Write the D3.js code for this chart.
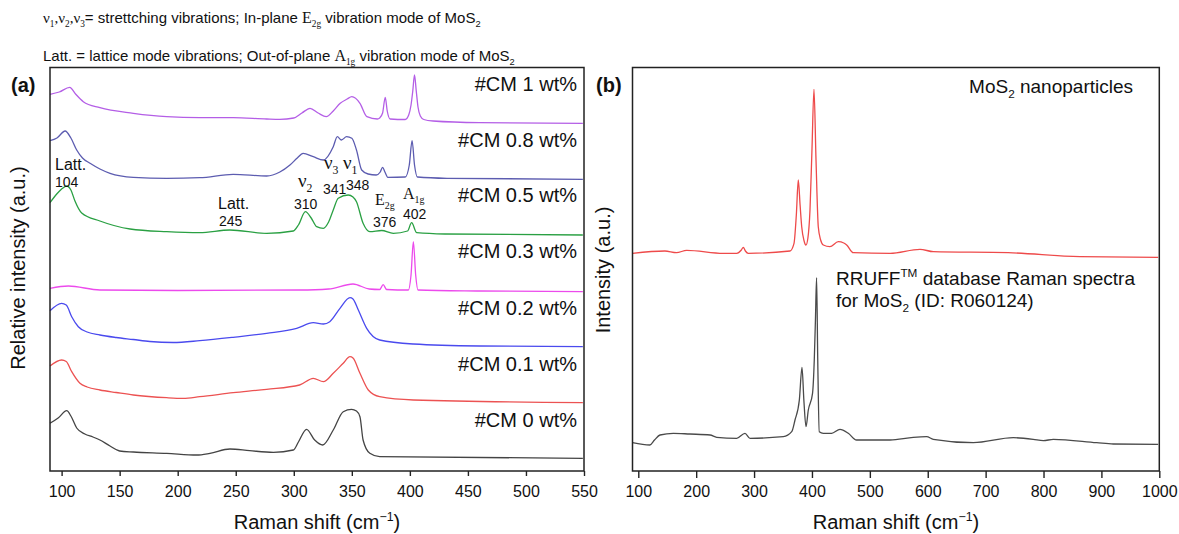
<!DOCTYPE html>
<html><head><meta charset="utf-8">
<script src="https://cdn.jsdelivr.net/npm/d3@7"></script>
<style>body{margin:0;background:#fff}svg{display:block}text{font-family:"Liberation Sans",Arial,sans-serif;fill:#111}</style>
</head><body><svg id="c" width="1179" height="534"></svg>
<script>
// ---------- DATA ----------
const seriesLabels = ["#CM 1 wt%","#CM 0.8 wt%","#CM 0.5 wt%","#CM 0.3 wt%","#CM 0.2 wt%","#CM 0.1 wt%","#CM 0 wt%"];
// wavenumber (cm-1) and stacked relative intensity (a.u.)
const cm1_x = [90,98,107,112,118.7,133,161.8,190.5,219,247.8,276.6,288,300,307,314,321,328,334,340,346,350,357,363,372,374,376.5,378.8,380.5,383,396,399,401,402.5,404,405.5,407,409,412,420,460,549];
const cm1_y = [376.7,379,383.7,377,369.3,363.3,357.7,354.3,353.3,353.3,352,351.7,353,358,362.7,358,354.3,360,367.7,372,374.3,367.7,354.3,352,353,358,373.7,360,352,351.5,356,366,380,396,380,364,355,351.5,350,348.3,347.7];
const cm08_x = [90,96,103,108,113,118,124.5,133,141.7,161.8,190.5,219,247.8,276.6,288,296.7,303,308,316.8,325.5,334,337.5,341,345.5,350,354,358.5,364,371,374.5,376.5,378.5,381,396,399.5,401.9,404,406.5,432,549];
const cm08_y = [330.3,333,340,333,321,313,307.7,302,297.7,293.7,292.7,293.3,296.7,295,299,306,313,317.7,314.3,311,324.3,334.3,331,334.3,332.7,321,301,297,296,299,303.7,299,293.7,294,306,330.3,306,294,292.7,291.7];
const cm05_x = [90,95.8,100,104.4,108,111.5,117.3,133,159,190.5,219,245,276.6,299.6,304,310,315,319.7,325.5,330,334,338.3,346.9,351,354,359.7,365.5,375.7,385.7,398,401.5,405.9,430,549];
const cm05_y = [268.3,277,282,285,281,270,258,250,242,239.3,238.3,241,237.7,240,246,259.3,253,244.3,242.7,249,261,272.7,276,274,269.3,247.7,239.3,240.5,237.7,240,248.3,238.3,237,236];
const cm03_x = [90,105.8,133,200,305,330,351,365,374,377,380,398.7,401,403,405,407,460,549];
const cm03_y = [182.7,185,181,180.5,181,182,187,182,181.5,186.3,181.5,181,196,229.3,196,181,180,179.3];
const cm02_x = [90,100,104,108.7,114.4,122,133,147,161.8,176,196,219,247.8,276.6,302.5,316.8,325.5,331,339.8,348.4,351,355.6,362.8,374,403,460,549];
const cm02_y = [160.3,167.7,166,154.3,144.3,139,136,133.5,131.5,129.5,128.5,130.3,133.7,137.7,142.7,148.3,147,149.3,162.7,173.3,172,161,142.7,131,127,125,124.3];
const cm01_x = [90,100,104,108.7,115.8,122,133,147,161.8,175,190.5,204.8,219,247.8,276.6,305,316.8,325.5,334,342.6,348.4,351,357,364.2,374,403,549];
const cm01_y = [105,111,109.5,99.3,87.7,84,81,78.5,76,74.5,73.3,72.7,74.3,78.3,81.7,86,92.7,89.3,97.7,107.7,114.3,113,97.7,81,74.3,71,68.3];
const cm0_x = [90,97,104.4,108,113,120,127,133,141.7,150,161.8,190.5,216.4,227.8,245,262,282.4,299.6,304,311,318,324.9,334,342.6,349.8,354,357,359.7,365.5,374,549];
const cm0_y = [47.7,53,60.3,55,43,37,34,31,25,20,19,17.7,16,17.7,22,20.3,18.7,21,29,41.7,31,26,41,59.3,61.7,60,54.3,31,17.7,14.3,12.7];

const nano_x = [90,146,166,183.6,246.9,270,278,281.4,285,290,362,369,373,376.4,379.5,382.3,386,389.7,393,396.6,400,403.5,407,410.9,415,419.6,431,445.5,455,460,471.4,535,586.6,609.6,739,863,998];
const nano_y = [217.7,220,218.3,220.7,217.7,217.7,221,223.7,220,217.7,220,227.7,256,291,266,244.3,231,226,233,261,321,381.7,311,244.3,231,226,224.3,229.3,228,226,218.3,217.7,221.7,219.3,218.3,214.3,213.7];
const rruff_x = [90,120,128,137.5,160.5,189,224,235.5,270,284.3,293,350.5,365,370.7,378.2,382.8,386,389.7,393.7,401,404,406,408,410,412.6,419.6,434,448.4,462.8,477,535,575,598,609.6,678.7,747.8,782.3,799.6,817,891.8,920.5,998];
const rruff_y = [28.3,26,31,36,37.7,37,36,33.7,32.7,37.7,32.7,34.3,39.3,51,71,103.7,71,44.3,61,77.7,111,151,193.3,111,39.3,37.7,37.7,41.7,37.7,31,31,33.7,34.3,31.7,28.3,33.3,31.7,30.3,31.7,28.3,27,26.7];

const ticksA = [100,150,200,250,300,350,400,450,500,550];
const ticksB = [100,200,300,400,500,600,700,800,900,1000];

// ---------- DRAW ----------
const svg = d3.select("#c");
const SERIF = '"Liberation Serif","Times New Roman",serif';
const colorsA = ["#b45ee6","#5c5cb0","#2aa043","#ec4aec","#4a4aee","#ec5252","#444444"];

const xA = d3.scaleLinear().domain([90,550]).range([50,584]);
const yA = d3.scaleLinear().domain([0,403]).range([471,68]);
const xB = d3.scaleLinear().domain([90,1000]).range([632.5,1159.3]);
const yB = d3.scaleLinear().domain([0,403]).range([471,68]);

function rich(g, x, y, segs, size, anchor){
  const t = g.append("text").attr("x",x).attr("y",y).attr("font-size",size).attr("text-anchor",anchor||"start");
  let cur = 0;
  segs.forEach(s=>{
    const ts = t.append("tspan").text(s.t);
    let target = 0, fs = s.fs || size;
    if (s.sub){ target = size*0.28; fs = size*0.62; }
    if (s.sup){ target = -size*0.4; fs = size*0.62; }
    if (target !== cur){ ts.attr("dy", target-cur); cur = target; }
    ts.attr("font-size", fs);
    if (s.serif) ts.style("font-family", SERIF);
  });
  return t;
}

function drawLine(xs, ys, sx, sy, color, w){
  const pts = xs.map((x,i)=>[x, ys[i]]);
  svg.append("path").datum(pts)
    .attr("fill","none").attr("stroke",color).attr("stroke-width",w||1.3).attr("stroke-linejoin","round")
    .attr("d", d3.line().x(d=>sx(d[0])).y(d=>sy(d[1])).curve(d3.curveMonotoneX));
}

const seriesA = [[cm1_x,cm1_y],[cm08_x,cm08_y],[cm05_x,cm05_y],[cm03_x,cm03_y],[cm02_x,cm02_y],[cm01_x,cm01_y],[cm0_x,cm0_y]];
seriesA.forEach((s,i)=>drawLine(s[0], s[1], xA, yA, colorsA[i]));
drawLine(nano_x, nano_y, xB, yB, "#ee4a4a");
drawLine(rruff_x, rruff_y, xB, yB, "#4a4a4a");

// frames
[[50,584],[632.5,1159.3]].forEach(r=>{
  svg.append("rect").attr("x",r[0]).attr("y",67.5).attr("width",r[1]-r[0]).attr("height",471-67.5)
    .attr("fill","none").attr("stroke","#222").attr("stroke-width",1.5);
});

// axes
function bottomAxis(x, major, minor, majLen, minLen){
  const g = svg.append("g").attr("transform","translate(0,471)");
  g.call(d3.axisBottom(x).tickValues(minor).tickSize(minLen).tickFormat(""));
  g.call(d3.axisBottom(x).tickValues(major).tickSize(majLen).tickPadding(15-majLen).tickFormat(d3.format("d")));
  g.selectAll(".domain").remove();
  g.selectAll("line").attr("stroke","#222").attr("stroke-width",1.4);
  g.selectAll("text").attr("font-size",16).style("font-family",'"Liberation Sans",Arial,sans-serif').attr("fill","#111");
}
bottomAxis(xA, ticksA, d3.range(125,550,50), 5, 4);
bottomAxis(xB, ticksB, d3.range(120,1000,20).filter(v=>v%100!==0), 7, 4);

// axis titles
rich(svg, 317, 529, [{t:"Raman shift (cm"},{t:"−1",sup:true},{t:")"}], 20, "middle");
rich(svg, 896, 529, [{t:"Raman shift (cm"},{t:"−1",sup:true},{t:")"}], 20, "middle");
svg.append("text").attr("transform","translate(25,268) rotate(-90)").attr("text-anchor","middle").attr("font-size",20).text("Relative intensity (a.u.)");
svg.append("text").attr("transform","translate(610,270) rotate(-90)").attr("text-anchor","middle").attr("font-size",20).text("Intensity (a.u.)");

// panel letters
svg.append("text").attr("x",11).attr("y",92).attr("font-size",20).attr("font-weight","bold").text("(a)");
svg.append("text").attr("x",596).attr("y",92).attr("font-size",20).attr("font-weight","bold").text("(b)");

// series labels
const labelBase = [91,147,202,258,315,371,427];
seriesLabels.forEach((l,i)=>svg.append("text").attr("x",577).attr("y",labelBase[i]).attr("text-anchor","end").attr("font-size",20).text(l));

// top legend text
rich(svg, 43, 23, [{t:"ν",serif:true},{t:"1",sub:true,serif:true},{t:",",serif:true},{t:"ν",serif:true},{t:"2",sub:true,serif:true},{t:",",serif:true},{t:"ν",serif:true},{t:"3",sub:true,serif:true},{t:"= strettching vibrations; In-plane  "},{t:"E",serif:true,fs:16},{t:"2g",sub:true,serif:true},{t:"  vibration mode of MoS"},{t:"2",sub:true}], 15);
rich(svg, 43, 61, [{t:"Latt. = lattice mode vibrations; Out-of-plane  "},{t:"A",serif:true,fs:16},{t:"1g",sub:true,serif:true},{t:"  vibration mode of MoS"},{t:"2",sub:true}], 15);

// peak annotations panel (a)
svg.append("text").attr("x",55).attr("y",170).attr("font-size",16).text("Latt.");
svg.append("text").attr("x",55).attr("y",187).attr("font-size",14).text("104");
svg.append("text").attr("x",218).attr("y",209).attr("font-size",16).text("Latt.");
svg.append("text").attr("x",219).attr("y",226).attr("font-size",14).text("245");
rich(svg, 298, 187, [{t:"ν",serif:true},{t:"2",sub:true,serif:true}], 19);
svg.append("text").attr("x",294).attr("y",209).attr("font-size",14).text("310");
rich(svg, 324, 169, [{t:"ν",serif:true},{t:"3",sub:true,serif:true}], 19);
svg.append("text").attr("x",323).attr("y",194).attr("font-size",14).text("341");
rich(svg, 343, 169, [{t:"ν",serif:true},{t:"1",sub:true,serif:true}], 19);
svg.append("text").attr("x",346).attr("y",190).attr("font-size",14).text("348");
rich(svg, 375, 205, [{t:"E",serif:true},{t:"2g",sub:true,serif:true}], 16);
svg.append("text").attr("x",373).attr("y",227).attr("font-size",14).text("376");
rich(svg, 403, 199, [{t:"A",serif:true},{t:"1g",sub:true,serif:true}], 16);
svg.append("text").attr("x",403).attr("y",219).attr("font-size",14).text("402");

// panel (b) texts
rich(svg, 1133, 93, [{t:"MoS"},{t:"2",sub:true},{t:" nanoparticles"}], 19, "end");
rich(svg, 836, 285, [{t:"RRUFF"},{t:"TM",sup:true},{t:" database Raman spectra"}], 19);
rich(svg, 836, 307, [{t:"for MoS"},{t:"2",sub:true},{t:" (ID: R060124)"}], 19);
</script></body></html>
